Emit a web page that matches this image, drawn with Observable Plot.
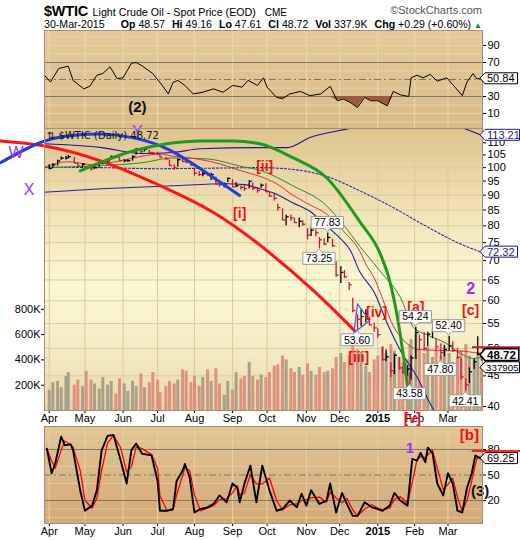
<!DOCTYPE html>
<html><head><meta charset="utf-8">
<script src="https://cdn.jsdelivr.net/npm/d3@7"></script>
<script src="https://cdn.jsdelivr.net/npm/@observablehq/plot@0.6"></script>
<style>
html,body{margin:0;padding:0;background:#fff;}
#c{position:relative;width:520px;height:540px;overflow:hidden;font-family:"Liberation Sans",Arial,Helvetica,sans-serif;color:#000;}
.h{position:absolute;white-space:nowrap;line-height:1;}
.q{margin-left:4px;}
</style></head><body>
<div id="c"></div>
<script>
// ---------- header text ----------
const symbolText = "$WTIC", nameText = "Light Crude Oil - Spot Price (EOD)", exchText = "CME";
const creditText = "©StockCharts.com", asOfText = "30-Mar-2015";
const quoteLabels = ["Op", "Hi", "Lo", "Cl", "Vol", "Chg"];
const quoteValues = ["48.57", "49.16", "47.61", "48.72", "337.9K", "+0.29 (+0.60%)"];
const legendText = "⇅ $WTIC (Daily) 48.72";

// ---------- price bars (sampled) ----------
const priceDates = ["2014-04-01","2014-04-04","2014-04-08","2014-04-11","2014-04-15","2014-04-17","2014-04-22","2014-04-25","2014-04-29","2014-05-02",
"2014-05-06","2014-05-09","2014-05-13","2014-05-16","2014-05-20","2014-05-23","2014-05-27","2014-05-30","2014-06-03","2014-06-06",
"2014-06-10","2014-06-13","2014-06-17","2014-06-20","2014-06-24","2014-06-27","2014-07-01","2014-07-03","2014-07-08","2014-07-11",
"2014-07-15","2014-07-18","2014-07-22","2014-07-25","2014-07-29","2014-08-01","2014-08-05","2014-08-08","2014-08-12","2014-08-15",
"2014-08-19","2014-08-22","2014-08-26","2014-08-29","2014-09-02","2014-09-05","2014-09-09","2014-09-12","2014-09-16","2014-09-19",
"2014-09-23","2014-09-26","2014-09-30","2014-10-03","2014-10-07","2014-10-10","2014-10-14","2014-10-17","2014-10-21","2014-10-24",
"2014-10-28","2014-10-31","2014-11-04","2014-11-07","2014-11-11","2014-11-14","2014-11-18","2014-11-21","2014-11-25","2014-11-28",
"2014-12-02","2014-12-05","2014-12-09","2014-12-12","2014-12-16","2014-12-19","2014-12-23","2014-12-26","2014-12-30","2015-01-02",
"2015-01-06","2015-01-09","2015-01-13","2015-01-16","2015-01-20","2015-01-23","2015-01-27","2015-01-29","2015-01-30","2015-02-03","2015-02-06",
"2015-02-10","2015-02-13","2015-02-17","2015-02-20","2015-02-24","2015-02-27","2015-03-03","2015-03-06","2015-03-10","2015-03-13",
"2015-03-17","2015-03-20","2015-03-24","2015-03-27","2015-03-30"];
const priceClose = [99.7,101.1,102.6,103.7,103.8,104.3,101.8,100.6,101.3,99.8,
99.5,100.0,101.7,102.0,102.6,104.4,104.1,102.7,102.7,102.7,
104.4,106.9,106.4,107.3,106.0,105.7,105.4,104.1,103.4,100.8,
99.96,103.1,102.4,102.1,100.97,97.9,97.4,97.7,97.4,97.4,
93.9,93.7,93.9,95.96,92.9,93.3,92.7,92.3,94.9,92.4,
91.6,93.5,91.2,89.7,88.9,85.8,81.8,82.8,82.5,81.0,
81.4,80.5,77.2,78.7,77.9,75.8,74.6,76.5,74.1,66.2,
66.9,65.8,63.8,57.8,55.9,56.5,57.1,54.7,54.1,52.7,
47.9,48.4,45.9,48.7,46.4,45.6,46.2,44.5,48.2,53.1,51.7,
50.0,52.8,53.5,50.3,49.2,49.8,50.5,49.6,48.3,44.8,
43.5,45.7,47.5,48.9,48.72];
const priceHigh = [101.1,101.6,102.9,104.2,104.5,104.9,104.0,101.9,101.6,100.5,
100.1,100.4,102.0,102.4,103.0,104.6,104.8,103.9,103.1,103.1,
104.6,107.7,107.5,107.7,106.9,106.1,106.1,105.0,104.1,102.9,
101.1,103.4,104.0,103.1,102.2,99.5,98.5,98.3,98.1,97.9,
96.5,94.6,94.3,96.1,95.5,94.4,93.3,93.3,95.1,94.3,
92.7,93.9,94.0,91.0,90.6,86.9,85.4,83.4,83.4,82.3,
82.4,81.6,79.1,79.3,78.7,76.5,76.1,77.83,76.0,69.7,
68.4,67.4,64.4,60.6,56.9,58.0,58.0,56.4,55.1,53.9,
50.3,49.7,47.3,48.9,48.3,46.6,46.8,45.4,48.6,54.24,52.6,
53.1,53.2,53.8,51.9,50.9,50.6,52.40,51.3,50.0,48.1,
44.5,46.4,48.0,52.3,49.16];
const priceLow = [99.2,99.6,100.6,102.9,103.0,103.5,101.5,100.3,99.9,98.9,
98.7,99.3,99.9,101.1,101.6,103.3,103.6,102.3,101.9,102.1,
102.5,104.9,105.6,106.2,105.6,104.9,104.7,103.8,102.9,100.6,
99.1,100.2,102.0,101.5,100.5,96.8,96.7,96.6,96.8,95.2,
93.6,92.8,92.5,94.4,92.7,92.6,91.8,91.3,92.1,91.6,
90.6,92.4,90.8,89.2,88.0,84.6,81.6,80.0,81.4,80.7,
79.4,79.9,75.8,76.8,76.7,73.25,74.1,75.0,73.7,65.7,
64.1,65.3,62.4,57.3,53.6,54.4,55.1,54.5,53.2,52.0,
47.6,47.5,44.7,45.2,46.0,45.2,44.9,43.58,44.3,47.9,49.6,
49.5,50.3,51.9,49.3,47.8,48.4,49.5,49.2,48.0,44.3,
42.41,43.7,46.1,48.6,47.61];
const volumeK = [160,220,230,180,270,300,200,240,190,310,
240,210,170,260,200,230,130,250,210,150,
230,190,290,180,220,300,240,140,190,230,
210,240,320,310,220,270,190,260,320,230,
330,210,120,230,160,300,250,270,380,270,
240,280,260,300,350,360,430,400,330,300,
340,280,370,310,280,340,300,310,330,420,
450,380,430,520,480,460,350,300,400,430,
500,450,520,470,420,380,400,520,560,600,480,
450,500,420,470,430,500,450,380,420,470,
520,430,400,460,337.905];

// ---------- overlays ----------
const bbMidDates = ["2014-03-28","2014-05-15","2014-07-01","2014-08-15","2014-09-25","2014-10-23","2014-11-20","2014-12-18","2015-01-15","2015-02-13","2015-03-12","2015-03-30"];
const bbMidValues = [100.2,100.0,99.6,99.8,100.0,99.3,96.7,91.5,85.8,79.6,74.7,72.32];
const bbUpDates = ["2014-03-28","2014-05-15","2014-06-18","2014-07-14","2014-08-06","2014-09-25","2014-10-18","2014-11-06","2014-12-10","2015-01-10","2015-02-10","2015-03-15","2015-03-30"];
const bbUpValues = [109.6,108.0,105.6,106.0,107.5,108.0,108.0,112.3,116.3,121,121,116.3,113.21];
const bbLoDates = ["2014-03-28","2014-05-15","2014-07-14","2014-08-28","2014-09-12","2014-09-25","2014-10-06","2014-10-23","2014-11-06","2014-11-20","2014-12-01","2014-12-10","2014-12-18","2014-12-30","2015-01-10","2015-01-21","2015-02-04","2015-02-17","2015-03-05","2015-03-30"];
const bbLoValues = [91.0,92.2,93.3,94.0,93.7,92.2,90.8,87.3,84.6,79.9,76.4,72.8,67.0,62.0,55.0,49.6,44.8,39.8,36.5,34.5];
const redMaDates = ["2014-03-28","2014-04-17","2014-05-06","2014-05-28","2014-06-18","2014-07-03","2014-07-14","2014-07-28","2014-08-22","2014-09-09","2014-09-25","2014-10-09","2014-10-23","2014-11-06","2014-11-20","2014-12-04","2014-12-18","2014-12-24","2014-12-30","2015-01-04","2015-01-15","2015-01-24","2015-02-05","2015-02-24","2015-03-12","2015-03-30"];
const redMaValues = [100.2,102.3,101.2,102.4,104.5,105.4,104.5,103.8,101.5,98.8,96.7,94.0,89.9,86.7,83.7,78.5,72.5,68.5,65.5,62.0,54.5,51.5,49.8,49.6,49.5,49.0];
const greenMaDates = ["2014-03-28","2014-05-01","2014-06-01","2014-06-18","2014-07-14","2014-08-12","2014-09-09","2014-09-25","2014-10-23","2014-11-20","2014-12-04","2014-12-18","2015-01-06","2015-01-21","2015-02-01","2015-02-13","2015-03-01","2015-03-12","2015-03-23","2015-03-30"];
const greenMaValues = [100.0,100.5,101.2,101.9,103.8,103.4,100.5,99.0,93.2,86.4,80.4,73.9,66.5,60.8,54.2,52.6,50.9,49.1,48.1,48.3];

// ---------- hand-drawn arcs ----------
const redArcDates = ["2014-02-19","2014-03-28","2014-05-14","2014-07-09","2014-08-17","2014-09-25","2014-11-09","2014-12-16"];
const redArcValues = [110.8,108.7,102.6,92.2,84.2,74.3,62.4,52.9];
const blueArcDates = ["2014-02-19","2014-03-22","2014-04-16","2014-05-14","2014-06-11","2014-07-09","2014-08-06","2014-09-08"];
const blueArcValues = [101.9,109.6,112.9,113.8,112.1,107.5,99.6,89.9];
const greenArcDates = ["2014-04-27","2014-06-11","2014-07-09","2014-08-06","2014-09-02","2014-09-25","2014-10-23","2014-11-20","2014-12-18","2015-01-04","2015-01-12","2015-01-18","2015-01-27"];
const greenArcValues = [98.8,106.7,109.6,110.8,110.8,109.6,103.8,96.2,81.2,71.9,64.8,57.1,43.3];
const triDates = ["2014-12-13","2014-12-16","2014-12-26","2014-12-13"];
const triValues = [53.1,59.3,55.6,53.1];

// ---------- wave labels ----------
const purpleText = ["W","X","Y"];
const purpleDates = ["2014-03-04","2014-03-15","2014-06-14"];
const purpleValues = [105.9,91.9,114.8];
const redWaveText = ["[i]","[ii]","[iii]","[iv]","[a]","[c]","[v]"];
const redWaveDates = ["2014-09-08","2014-09-29","2014-12-17","2015-01-01","2015-02-03","2015-03-21","2015-01-31"];
const redWaveValues = [83.8,100.3,48.3,57.3,58.4,57.8,38.2];

// ---------- callouts ----------
const calloutDates = ["2014-11-21","2014-11-14","2014-12-16","2015-02-03","2015-03-03","2015-02-24","2015-01-29","2015-03-17"];
const calloutValues = [77.83,73.25,53.60,54.24,52.40,47.80,43.58,42.41];
const calloutSide = ["above","below","below","above","above","below","below","below"];

// ---------- RSI ----------
const rsiDates = ["2014-03-28","2014-04-02","2014-04-09","2014-04-17","2014-04-21","2014-04-30","2014-05-05","2014-05-11","2014-05-16","2014-05-22","2014-05-28","2014-06-02","2014-06-09","2014-06-13","2014-06-18","2014-06-27","2014-07-05","2014-07-10","2014-07-14","2014-07-18","2014-07-24","2014-07-31","2014-08-08","2014-08-17","2014-08-25","2014-09-02","2014-09-10","2014-09-15","2014-09-23","2014-09-28","2014-10-01","2014-10-09","2014-10-14","2014-10-20","2014-10-29","2014-11-06","2014-11-15","2014-11-23","2014-11-29","2014-12-04","2014-12-10","2014-12-16","2014-12-22","2014-12-27","2015-01-02","2015-01-10","2015-01-15","2015-01-21","2015-01-28","2015-01-30","2015-02-04","2015-02-09","2015-02-15","2015-02-21","2015-03-01","2015-03-06","2015-03-14","2015-03-18","2015-03-23","2015-03-26","2015-03-30"];
const rsiValues = [55,47,63,65.6,49,39,42,55,57,65,51,52,69,70,66,57,43,33,46.5,49,43,33,35,39,35,43,41,49,43,52,41,29,27.5,33,36,31,33,42,25,27,23,17,29,25,25,19,36,32,30,52,55,52,56,48,52,44,31,47,57,51,50.84];
const rsiTicks = [10,30,70,90];
const panelStripes = [0,10,20,40,60,80,90,100];

// ---------- lower oscillator ----------
const stoDates = ["2014-03-30","2014-04-03","2014-04-06","2014-04-11","2014-04-14","2014-04-19","2014-04-21","2014-04-27","2014-05-01","2014-05-07","2014-05-11","2014-05-15","2014-05-20","2014-05-25","2014-05-31","2014-06-05","2014-06-09","2014-06-13","2014-06-18","2014-06-26","2014-07-01","2014-07-03","2014-07-09","2014-07-14","2014-07-17","2014-07-22","2014-07-24","2014-07-28","2014-08-01","2014-08-06","2014-08-12","2014-08-17","2014-08-22","2014-08-28","2014-09-02","2014-09-06","2014-09-08","2014-09-12","2014-09-17","2014-09-22","2014-09-27","2014-10-03","2014-10-09","2014-10-14","2014-10-20","2014-10-26","2014-10-30","2014-11-03","2014-11-07","2014-11-14","2014-11-20","2014-11-23","2014-11-28","2014-12-03","2014-12-07","2014-12-12","2014-12-16","2014-12-22","2014-12-28","2015-01-02","2015-01-06","2015-01-12","2015-01-16","2015-01-21","2015-01-27","2015-01-31","2015-02-04","2015-02-07","2015-02-11","2015-02-13","2015-02-17","2015-02-21","2015-02-26","2015-03-02","2015-03-06","2015-03-10","2015-03-14","2015-03-18","2015-03-22","2015-03-25","2015-03-27","2015-03-30"];
const stoValues = [81,52,63.5,95,85,86,79,32,8,14,32,79,96,97,67,40,79,87,75,73,43,8,8,10,43,55,63,47,6,10,12,16,26,18,40,35,18,40,61,18,61,32,8,10,20,12,28,14,32,16,20,40,6,29,16,2,2,18,12,10,8,14,29,20,14,69,67,76,65,82,76,40,26,52,40,8,6,35,52,73,71,69.25];
const stoTicks = [20,50,80];
const stoLabelText = ["1","[b]","(3)"];
const stoLabelDates = ["2015-01-29","2015-03-20","2015-03-29"];
const stoLabelValues = [81,96.4,30.6];

// ---------- axes ----------
const monthDates = ["2014-04-01","2014-05-01","2014-06-02","2014-07-01","2014-08-01","2014-09-02","2014-10-01","2014-11-03","2014-12-01","2015-01-02","2015-02-02","2015-03-02"];
const monthLabels = ["Apr","May","Jun","Jul","Aug","Sep","Oct","Nov","Dec","2015","Feb","Mar"];
const priceTicks = [40,45,50,55,60,65,70,75,80,85,90,95,100,105,110];
const volTicks = [200000,400000,600000,800000];

// ================= drawing =================
const F = '"Liberation Sans", Arial, Helvetica, sans-serif';
const ST = {fontFamily: F, fontSize: "11px", background: "none", overflow: "visible", color: "#000"};
const W = 520, ML = 44, MR = 38;
const NAVY = "#1a1a8a", BORDER = "#a38d7f", UPC = "#000000", DNC = "#d4103c";
const xDomain = [new Date("2014-03-28"), new Date("2015-03-31")];
const rows = (ds, vs, extra) => ds.map((d, i) => Object.assign({date: new Date(d), v: vs[i]}, extra ? extra(i) : {}));
const bars = priceDates.map((d, i) => ({date: new Date(d), c: priceClose[i], h: priceHigh[i], l: priceLow[i], v: volumeK[i] * 1000,
  up: i === 0 || priceClose[i] >= priceClose[i - 1]}));
const monthD = monthDates.map(d => new Date(d));
const labMap = new Map(monthD.map((d, i) => [+d, monthLabels[i]]));
const C = document.getElementById("c");

// header
function addDiv(html, style) { const d = document.createElement("div"); d.className = "h"; d.setAttribute("style", style); d.innerHTML = html; C.appendChild(d); return d; }
addDiv(`<b style="font-size:14.5px;letter-spacing:-0.2px">${symbolText}</b> <span style="font-size:10.7px">${nameText}</span>&nbsp; <span style="font-size:10px">${exchText}</span>`, "left:44px;top:3px;");
addDiv(creditText, "right:38px;top:5px;font-size:11px;color:#555;");
addDiv(asOfText, "left:44px;top:19px;font-size:10.6px;");
addDiv(quoteLabels.map((l, i) => `<span class="q"><b>${l}</b> ${quoteValues[i]}</span>`).join(" ") + ` <span style="color:#0a8a0a;font-size:8px">▲</span>`, "right:38px;top:19px;font-size:10.6px;");

function mount(svg, top, z) { svg.style.position = "absolute"; svg.style.left = "0px"; svg.style.top = top + "px"; svg.style.zIndex = z; C.appendChild(svg); return svg; }
function defs(svg, id, stops) {
  d3.select(svg).insert("defs", ":first-child").html(`<linearGradient id="${id}" x1="0" y1="0" x2="0" y2="1">` +
    stops.map(([o, c]) => `<stop offset="${o}" stop-color="${c}"/>`).join("") + `</linearGradient>`);
}
const xAxisMark = () => Plot.axisX({ticks: monthD, tickFormat: d => labMap.get(+d), tickSize: 3, tickPadding: 1, label: null, fontSize: 11});
function boldYear(svg) { d3.select(svg).selectAll("text").filter(function () { return this.textContent === "2015"; }).attr("font-weight", "bold"); }

// ---- RSI panel
const rsi = rows(rsiDates, rsiValues);
const pRsi = Plot.plot({
  width: W, height: 98, marginLeft: ML, marginRight: MR, marginTop: 0, marginBottom: 0,
  x: {type: "utc", domain: xDomain, axis: null}, y: {domain: [-7.6, 107.6], axis: null},
  style: ST,
  marks: [
    Plot.frame({fill: "url(#gRsi)"}),
    Plot.ruleY(panelStripes, {stroke: "#ecd6ab", strokeWidth: 1, strokeOpacity: 0.8}),
    Plot.ruleX(monthD, {stroke: "#ecd8b0", strokeWidth: 1}),
    Plot.ruleY([70, 30], {stroke: "#7e7568", strokeWidth: 1}),
    Plot.ruleY([50], {stroke: "#7e7568", strokeWidth: 1, strokeDasharray: "7,3,2,3"}),
    Plot.areaY(rsi, {x: "date", y1: 30, y2: d => Math.min(d.v, 30), fill: "#9a5a3c"}),
    Plot.lineY(rsi, {x: "date", y: "v", stroke: "#000", strokeWidth: 1}),
    Plot.axisY({anchor: "right", ticks: rsiTicks, tickSize: 3, tickPadding: 2, label: null, fontSize: 11}),
    Plot.text([{date: new Date("2014-06-14"), v: 17, t: "(2)"}], {x: "date", y: "v", text: "t", fontSize: 15, fontWeight: "bold", fill: "#111"}),
    Plot.frame({stroke: BORDER})
  ]
});
defs(pRsi, "gRsi", [[0, "#e4ca9a"], [1, "#d9bb89"]]);
mount(pRsi, 30, 1);

// ---- main panel background
const pBg = Plot.plot({
  width: W, height: 282, marginLeft: ML, marginRight: MR, marginTop: 0, marginBottom: 0,
  x: {type: "utc", domain: xDomain, axis: null}, y: {type: "log", domain: [39.4, 116.2], axis: null},
  style: ST,
  marks: [
    Plot.frame({fill: "url(#gMain)"}),
    Plot.ruleY(priceTicks, {stroke: "#dccaa0", strokeWidth: 1}),
    Plot.ruleX(monthD, {stroke: "#dcc9a2", strokeWidth: 1})
  ]
});
defs(pBg, "gMain", [[0, "#dfc38d"], [0.3, "#f1e4b8"], [0.55, "#fbf8d4"], [0.8, "#f4eac3"], [1, "#e8d5a6"]]);
mount(pBg, 128, 2);

// ---- volume layer
const pVol = Plot.plot({
  width: W, height: 300, marginLeft: ML, marginRight: MR, marginTop: 0, marginBottom: 18,
  x: {type: "utc", domain: xDomain, axis: null}, y: {domain: [0, 2229000], axis: null},
  color: {type: "identity"},
  style: ST,
  marks: [
    Plot.ruleX(bars, {x: "date", y1: 0, y2: "v", stroke: d => d.up ? "#a7a18b" : "#dc927f", strokeWidth: 3}),
    Plot.axisY({anchor: "left", ticks: volTicks, tickFormat: d => (d / 1000) + "K", tickSize: 3, tickPadding: 1, label: null, fontSize: 11}),
    xAxisMark()
  ]
});
boldYear(pVol);
mount(pVol, 128, 3);

// ---- price layer
const tickRight = {draw(ctx) { ctx.moveTo(0, 0); ctx.lineTo(2.6, 0); }};
const line = (ds, vs, o) => Plot.lineY(rows(ds, vs), Object.assign({x: "date", y: "v", curve: "monotone-x"}, o));
const pPrice = Plot.plot({
  width: W, height: 292, marginLeft: ML, marginRight: MR, marginTop: 10, marginBottom: 0,
  x: {type: "utc", domain: xDomain, axis: null}, y: {type: "log", domain: [39.4, 116.2], axis: null},
  color: {type: "identity"},
  style: ST,
  marks: [
    line(bbUpDates, bbUpValues, {stroke: NAVY, strokeWidth: 1.1, clip: true}),
    line(bbMidDates, bbMidValues, {stroke: "#2a2aa8", strokeWidth: 1.1, strokeDasharray: "2,2"}),
    line(bbLoDates, bbLoValues, {stroke: "#22229a", strokeWidth: 1.1, clip: true}),
    line(greenMaDates, greenMaValues, {stroke: "#2b8a2b", strokeWidth: 1}),
    line(redMaDates, redMaValues, {stroke: "#e0303c", strokeWidth: 1}),
    Plot.ruleX(bars, {x: "date", y1: "l", y2: "h", stroke: d => d.up ? UPC : DNC, strokeWidth: 1.3}),
    Plot.dot(bars, {x: "date", y: "c", symbol: tickRight, r: 3, fill: "none", stroke: d => d.up ? UPC : DNC, strokeWidth: 1.3}),
    line(redArcDates, redArcValues, {stroke: "#ff1414", strokeWidth: 3, curve: "natural"}),
    line(blueArcDates, blueArcValues, {stroke: "#1f3de0", strokeWidth: 3, curve: "natural"}),
    line(greenArcDates, greenArcValues, {stroke: "#1e9a1e", strokeWidth: 3}),
    line(triDates, triValues, {stroke: "#3a5cff", strokeWidth: 1.2, curve: "linear"}),
    Plot.axisY({anchor: "right", ticks: priceTicks, tickSize: 3, tickPadding: 2, label: null, fontSize: 11}),
    Plot.text(rows(purpleDates, purpleValues, i => ({t: purpleText[i]})), {x: "date", y: "v", text: "t", fontSize: 16, fill: "#9b30ff"}),
    Plot.text([{date: new Date("2015-03-21"), v: 62.9, t: "2"}], {x: "date", y: "v", text: "t", fontSize: 16, fontWeight: "bold", fill: "#9b30ff"}),
    Plot.text(rows(redWaveDates, redWaveValues, i => ({t: redWaveText[i]})), {x: "date", y: "v", text: "t", fontSize: 14, fontWeight: "bold", fill: "#ee1111"}),
    Plot.frame({stroke: BORDER})
  ]
});
mount(pPrice, 118, 4);

// ---- lower oscillator panel
const sto = rows(stoDates, stoValues);
const pSto = Plot.plot({
  width: W, height: 115, marginLeft: ML, marginRight: MR, marginTop: 0, marginBottom: 18,
  x: {type: "utc", domain: xDomain, axis: null}, y: {domain: [-7, 107], axis: null},
  color: {type: "identity"},
  style: ST,
  marks: [
    Plot.frame({fill: "url(#gSto)"}),
    Plot.ruleY(panelStripes, {stroke: "#e6cb9f", strokeWidth: 1, strokeOpacity: 0.8}),
    Plot.ruleX(monthD, {stroke: "#e8d0a6", strokeWidth: 1}),
    Plot.ruleY([80, 20], {stroke: "#7e7568", strokeWidth: 1}),
    Plot.ruleY([50], {stroke: "#7e7568", strokeWidth: 1, strokeDasharray: "7,3,2,3"}),
    Plot.lineY(sto, Plot.windowY({k: 2, anchor: "end"}, {x: "date", y: "v", stroke: "#ff0000", strokeWidth: 1.3})),
    Plot.lineY(sto, {x: "date", y: "v", stroke: "#000", strokeWidth: 1.9}),
    Plot.axisY({anchor: "right", ticks: stoTicks, tickSize: 3, tickPadding: 2, label: null, fontSize: 11}),
    xAxisMark(),
    Plot.text(rows(stoLabelDates, stoLabelValues, i => ({t: stoLabelText[i]})), {x: "date", y: "v", text: "t", fontSize: 15, fontWeight: "bold",
      fill: d => d.t === "1" ? "#9b30ff" : d.t === "[b]" ? "#ee1111" : "#111"}),
    Plot.frame({stroke: BORDER})
  ]
});
defs(pSto, "gSto", [[0, "#e1c594"], [1, "#d3a979"]]);
boldYear(pSto);
mount(pSto, 426, 1);

// ---- value tags at right edge
function tag(svg, y, text, o = {}) {
  const g = d3.select(svg).append("g").attr("text-anchor", "start");
  const t = g.append("text").attr("x", o.x || 487).attr("y", y).attr("dy", "0.36em").attr("font-family", F).attr("text-anchor", "start")
    .attr("font-size", o.size || 11).attr("font-weight", o.bold ? "bold" : null).attr("fill", o.color || "#000").text(text);
  let w = t.node().getComputedTextLength();
  if (!(w > 5)) w = text.length * 6.1;
  const h = o.h || 11, xb = 485, xe = Math.min(xb + w + 5, 519.5);
  g.insert("path", "text").attr("d", `M480,${y}L${xb},${y - h / 2}H${xe}V${y + h / 2}H${xb}Z`)
    .attr("fill", "#ffffff").attr("stroke", o.stroke || "#000").attr("stroke-width", o.sw || 1);
  if (o.top) g.insert("line", "path").attr("x1", 472).attr("x2", 522).attr("y1", y - h / 2 - 1.5).attr("y2", y - h / 2 - 1.5).attr("stroke", o.top).attr("stroke-width", 2);
}
tag(pRsi, pRsi.scale("y").apply(50.84), "50.84");
const yP = pPrice.scale("y"), xP = pPrice.scale("x");
tag(pPrice, yP.apply(113.21), "113.21", {stroke: NAVY, color: NAVY});
tag(pPrice, yP.apply(72.32), "72.32", {stroke: NAVY, color: NAVY});
tag(pPrice, yP.apply(48.72), "48.72", {bold: true, sw: 1.6, h: 12, size: 11.5, top: "#d4103c"});
tag(pPrice, pVol.scale("y").apply(volumeK[volumeK.length - 1] * 1000) + 10, String(Math.round(volumeK[volumeK.length - 1] * 1000)), {size: 9.8, x: 486});
tag(pSto, pSto.scale("y").apply(69.25), "69.25", {top: "#ff2020"});

// ---- callouts for highs/lows
calloutDates.forEach((d, i) => {
  const px = xP.apply(new Date(d)), py = yP.apply(calloutValues[i]);
  const g = d3.select(pPrice).append("g");
  const t = g.append("text").attr("font-family", F).attr("font-size", 10.5).attr("text-anchor", "middle").text(calloutValues[i].toFixed(2));
  const w = t.node().getComputedTextLength() + 6, h = 12, bx = px - w / 2;
  let by, dpath;
  if (calloutSide[i] === "above") {
    by = py - 4 - h;
    dpath = `M${bx},${by}H${bx + w}V${by + h}H${px + 3}L${px},${py - 1}L${px - 3},${by + h}H${bx}Z`;
  } else {
    by = py + 4;
    dpath = `M${bx},${by}H${px - 3}L${px},${py + 1}L${px + 3},${by}H${bx + w}V${by + h}H${bx}Z`;
  }
  g.insert("path", "text").attr("d", dpath).attr("fill", "#fdfdfb").attr("stroke", "#9c9a96").attr("stroke-width", 1);
  t.attr("x", px).attr("y", by + h / 2).attr("dy", "0.36em");
});

// ---- legend in price panel
d3.select(pPrice).append("text").attr("x", 47).attr("y", 17).attr("dy", "0.35em").attr("text-anchor", "start")
  .attr("font-family", '"DejaVu Sans", Verdana, sans-serif')
  .attr("font-size", 10).attr("fill", "#111").text(legendText);
</script>
</body></html>
